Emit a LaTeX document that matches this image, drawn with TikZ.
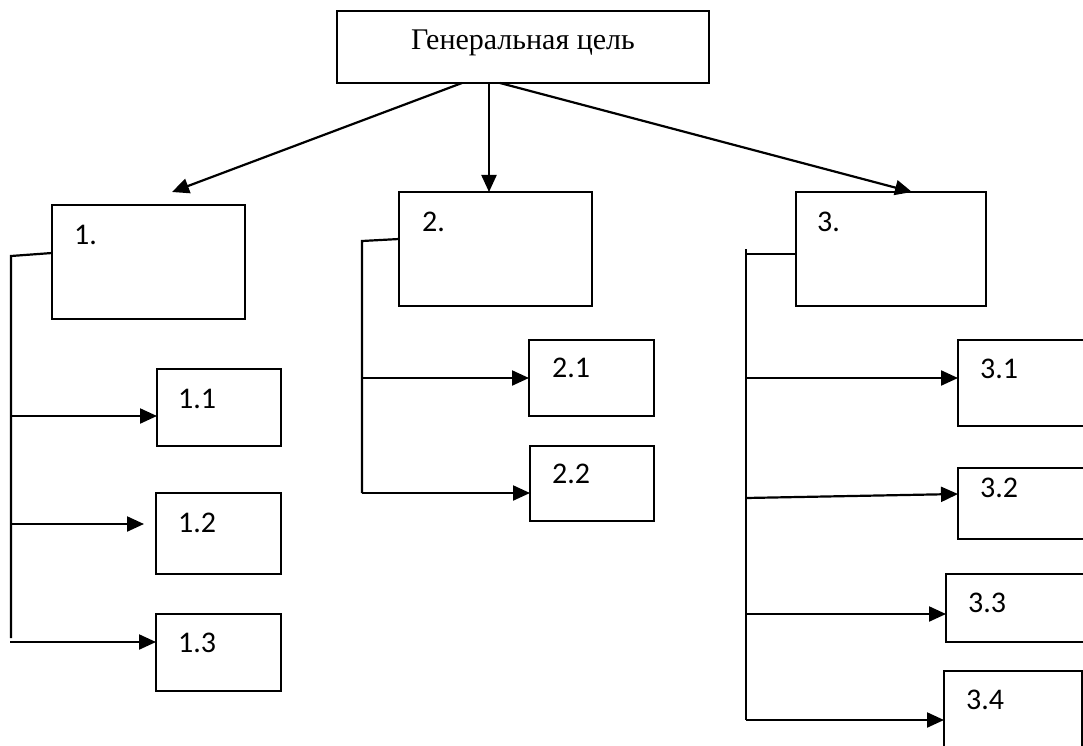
\documentclass[tikz,border=0pt]{standalone}
\usepackage{fontspec}
\setmainfont{Liberation Serif}
\newfontfamily\numfont{Carlito}
\usetikzlibrary{arrows.meta,calc}
\tikzset{
  box/.style={draw, line width=1.6pt, inner sep=0pt, outer sep=0pt},
  lbl/.style={anchor=base west, inner sep=0pt, font=\numfont\fontsize{30}{32}\selectfont},
  conn/.style={line width=2.2pt},
  arr/.style={line width=2.2pt, -{Triangle[length=17pt,width=15pt]}}
}
\begin{document}
\begin{tikzpicture}[x=1pt,y=-1pt]
\useasboundingbox (0,0) rectangle (1083,746);
\fill[white] (0,0) rectangle (1083,746);
\clip (0,0) rectangle (1083,746);
% boxes
\node[box, minimum width=372pt, minimum height=72pt] (top) at (523,47) {};
\node[anchor=base, inner sep=0pt, font=\fontsize{30}{32}\selectfont] (ttop) at (523,50) {Генеральная цель};
\node[box, minimum width=193pt, minimum height=114pt] (b1) at (148.5,262) {};
\node[box, minimum width=124pt, minimum height=77pt] (b11) at (219,407.5) {};
\node[box, minimum width=125pt, minimum height=81pt] (b12) at (218.5,533.5) {};
\node[box, minimum width=125pt, minimum height=77pt] (b13) at (218.5,652.5) {};
\node[box, minimum width=193pt, minimum height=114pt] (b2) at (495.5,249) {};
\node[box, minimum width=125pt, minimum height=76pt] (b21) at (591.5,378) {};
\node[box, minimum width=124pt, minimum height=75pt] (b22) at (592,483.5) {};
\node[box, minimum width=190pt, minimum height=114pt] (b3) at (891,249) {};
\node[box, minimum width=142pt, minimum height=86pt] (b31) at (1029,383) {};
\node[box, minimum width=142pt, minimum height=71pt] (b32) at (1029,503.5) {};
\node[box, minimum width=154pt, minimum height=68pt] (b33) at (1023,608) {};
\node[box, minimum width=138pt, minimum height=89pt] (b34) at (1013,715.5) {};
% labels
\node[lbl] (t1) at (74,244) {1.};
\node[lbl] (t11) at (178,408) {1.1};
\node[lbl] (t12) at (178,532) {1.2};
\node[lbl] (t13) at (178,652) {1.3};
\node[lbl] (t2) at (422,231) {2.};
\node[lbl] (t21) at (552,377) {2.1};
\node[lbl] (t22) at (552,483) {2.2};
\node[lbl] (t3) at (817,231) {3.};
\node[lbl] (t31) at (980,378) {3.1};
\node[lbl] (t32) at (980,497) {3.2};
\node[lbl] (t33) at (968,612) {3.3};
\node[lbl] (t34) at (966,709) {3.4};
% top arrows
\coordinate (s1) at (462,83);
\coordinate (s2) at (489,83);
\coordinate (s3) at (500,83);
\coordinate (e1) at (172,192);
\coordinate (e3) at (912,192);
\draw[arr] (s1) -- (e1);
\draw[arr] (s2) -- (s2 |- b2.north);
\draw[arr] (s3) -- (e3);
% branch 1
\coordinate (h1) at (52,253);
\coordinate (v1top) at (11,256);
\coordinate (v1bot) at (11,638);
\coordinate (p11) at (11,416);
\coordinate (p12) at (11,524);
\coordinate (q12) at (144,524);
\coordinate (p13) at (10,642);
\draw[conn] (h1) -- (v1top) -- (v1bot);
\draw[arr] (p11) -- (b11.west |- p11);
\draw[arr] (p12) -- (q12);
\draw[arr] (p13) -- (b13.west |- p13);
% branch 2
\coordinate (h2) at (399,239);
\coordinate (v2top) at (362,241);
\coordinate (v2bot) at (362,493);
\coordinate (p21) at (362,378);
\draw[conn] (h2) -- (v2top) -- (v2bot);
\draw[arr] (p21) -- (b21.west |- p21);
\draw[arr] (v2bot) -- (b22.west |- v2bot);
% branch 3
\coordinate (v3top) at (746,249);
\coordinate (v3bot) at (746,720);
\coordinate (h3) at (746,254);
\coordinate (p31) at (746,378);
\coordinate (p32) at (746,498);
\coordinate (q32) at (958,494);
\coordinate (p33) at (746,614);
\draw[conn] (v3top) -- (v3bot);
\draw[conn] (h3) -- (b3.west |- h3);
\draw[arr] (p31) -- (b31.west |- p31);
\draw[arr] (p32) -- (q32);
\draw[arr] (p33) -- (b33.west |- p33);
\draw[arr] (v3bot) -- (b34.west |- v3bot);
\end{tikzpicture}
\end{document}
